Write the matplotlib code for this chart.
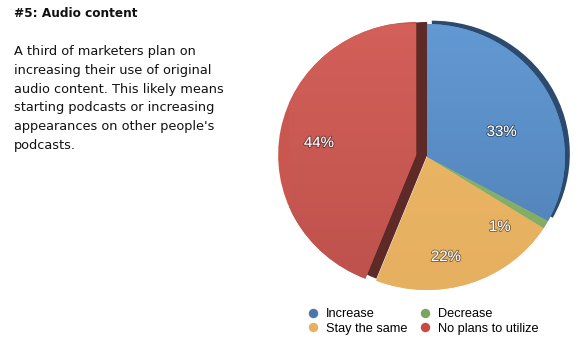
import matplotlib
matplotlib.use('Agg')
import numpy as np
import matplotlib.pyplot as plt
import matplotlib.patheffects as pe
from matplotlib.colors import to_rgb
from matplotlib.lines import Line2D

# data
labels = ['Increase', 'Decrease', 'Stay the same', 'No plans to utilize']
values = [33, 1, 22, 44]
pct_text = ['33%', '1%', '22%', '44%']
colors = ['#5a8bc4', '#8bb26a', '#ebb86a', '#c9574f']
top_colors = ['#669dd8', '#8fba70', '#ecb868', '#d6625b']
bot_colors = ['#4c7cb0', '#7fa862', '#e6af60', '#bb4f4a']
legend_colors = ['#4a78ad', '#7ba45c', '#e8b062', '#c54a42']
explode = [0, 0, 0, 0.08]

title = '#5: Audio content'
body = ["A third of marketers plan on",
        "increasing their use of original",
        "audio content. This likely means",
        "starting podcasts or increasing",
        "appearances on other people's",
        "podcasts."]

W, H = 578, 348
fig = plt.figure(figsize=(W / 100, H / 100), dpi=100)

def fx(px):
    return px / W

def fy(py):
    return 1 - py / H

# left text block
fig.text(fx(14), fy(17), title, fontsize=8.7, fontweight='bold',
         color='#111111', family='DejaVu Sans', va='baseline')
for i, line in enumerate(body):
    fig.text(fx(14), fy(55 + i * 18.8), line, fontsize=9.3,
             color='#111111', family='DejaVu Sans', va='baseline')

# pie (slightly squashed like the tilted original)
cx, cy, rx, ry = 427, 157, 138, 133
ax = fig.add_axes([fx(cx - rx), fy(cy + ry), 2 * rx / W, 2 * ry / H])

# dark side faces drawn underneath
shade = [('#2b4a6e', (0.035, 0.025), 0), ('#5e2a27', (0.08, 0.0), 3)]
for col, (dx, dy), idx in shade:
    ws, _ = ax.pie(values, startangle=90, counterclock=False, explode=explode,
                   center=(dx, dy), colors=[col] * 4,
                   wedgeprops=dict(linewidth=0))
    for j, w in enumerate(ws):
        w.set_visible(j == idx)

wedges, _ = ax.pie(values, startangle=90, counterclock=False, explode=explode,
                   colors=colors, wedgeprops=dict(linewidth=0))

# soft top-to-bottom shading on each slice
t = np.linspace(0, 1, 256)[:, None, None]
for w, c0, c1 in zip(wedges, top_colors, bot_colors):
    grad = np.array(to_rgb(c0))[None, None, :] * (1 - t) + \
        np.array(to_rgb(c1))[None, None, :] * t
    grad = np.repeat(grad, 2, axis=1)
    im = ax.imshow(grad, extent=(-1.3, 1.3, -1.3, 1.3), origin='upper',
                   interpolation='bilinear', zorder=w.get_zorder() + 0.1)
    im.set_clip_path(w)

label_pos = [(0.54, 0.188), (0.527, -0.526), (0.137, -0.752), (-0.783, 0.105)]
for txt, (x, y) in zip(pct_text, label_pos):
    ax.text(x, y, txt, ha='center', va='center', color='white', fontsize=10.8,
            family='Liberation Sans', zorder=5,
            path_effects=[pe.Stroke(linewidth=1.3, foreground=(0, 0, 0, 0.45)),
                          pe.Normal()])

ax.set_aspect('auto')
ax.set_xlim(-1, 1)
ax.set_ylim(-1, 1)
ax.axis('off')

# legend: two columns, filled column-wise
order = [0, 2, 1, 3]
handles = [Line2D([], [], marker='o', linestyle='none', markersize=6.8,
                  markerfacecolor=legend_colors[k], markeredgewidth=0)
           for k in order]
fig.legend(handles, [labels[k] for k in order], ncol=2, frameon=False,
           loc='upper left', bbox_to_anchor=(fx(305), fy(308)),
           prop={'family': 'Liberation Sans', 'size': 9.2},
           handletextpad=0.45, columnspacing=0.76, labelspacing=0.22,
           handlelength=1.2, borderpad=0, borderaxespad=0)

fig.savefig('out.png', dpi=100)
